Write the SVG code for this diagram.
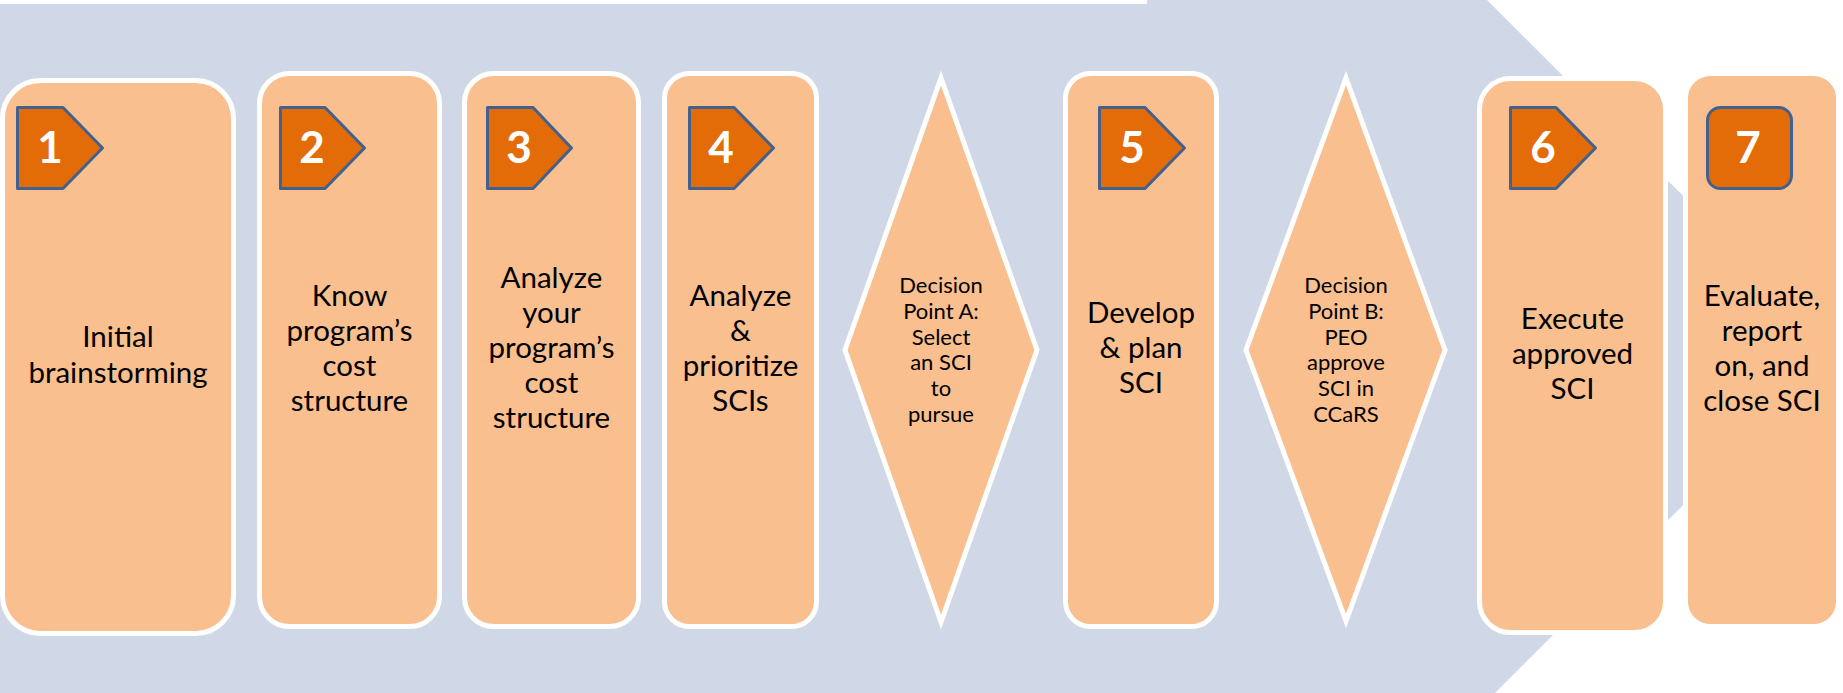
<svg xmlns="http://www.w3.org/2000/svg" width="1843" height="693" viewBox="0 0 1843 693">
<style>
.bg{fill:#D0D8E7}
.box{fill:#F9BF8F;stroke:#FFFFFF;stroke-width:5}
.badge{fill:#E36C09;stroke:#41618F;stroke-width:3;stroke-linejoin:round}
.num{font-family:Lato,"Liberation Sans",sans-serif;font-weight:bold;font-size:44px;fill:#FFFFFF;text-anchor:middle}
.t{font-family:Lato,"Liberation Sans",sans-serif;font-size:29.5px;fill:#000000;text-anchor:middle}
.d{font-family:Lato,"Liberation Sans",sans-serif;font-size:22px;fill:#000000;text-anchor:middle}
</style>
<rect width="1843" height="693" fill="#FFFFFF"/>
<g id="background-arrow">
<polygon class="bg" points="0,4 1147,4 1147,0 1487,0 1838,350.5 1487,701 1147,701 1147,697 0,697"/>
</g>
<g id="step1">
<rect class="box" x="2.5" y="80.5" width="231" height="553" rx="38" ry="38"/>
<polygon class="badge" points="17.5,107.5 63,107.5 102.5,148 63,188.5 17.5,188.5"/>
<text class="num" x="50" y="163">1</text>
<text class="t" x="118" y="347">Initial</text>
<text class="t" x="118" y="383">brainstorming</text>
</g>
<g id="step2">
<rect class="box" x="259.5" y="73.5" width="180" height="553" rx="30" ry="30"/>
<polygon class="badge" points="280.5,107.5 325,107.5 364.5,148 325,188.5 280.5,188.5"/>
<text class="num" x="312" y="163">2</text>
<text class="t" x="349.5" y="306">Know</text>
<text class="t" x="349.5" y="341">program’s</text>
<text class="t" x="349.5" y="376">cost</text>
<text class="t" x="349.5" y="411">structure</text>
</g>
<g id="step3">
<rect class="box" x="464.5" y="73.5" width="174" height="553" rx="29" ry="29"/>
<polygon class="badge" points="487.5,107.5 533,107.5 571.5,148 533,188.5 487.5,188.5"/>
<text class="num" x="519" y="163">3</text>
<text class="t" x="551.5" y="288">Analyze</text>
<text class="t" x="551.5" y="323">your</text>
<text class="t" x="551.5" y="358">program’s</text>
<text class="t" x="551.5" y="393">cost</text>
<text class="t" x="551.5" y="428">structure</text>
</g>
<g id="step4">
<rect class="box" x="664.5" y="73.5" width="152" height="553" rx="25" ry="25"/>
<polygon class="badge" points="689.5,107.5 734,107.5 773.5,148 734,188.5 689.5,188.5"/>
<text class="num" x="721" y="163">4</text>
<text class="t" x="740.5" y="306">Analyze</text>
<text class="t" x="740.5" y="341">&amp;</text>
<text class="t" x="740.5" y="376">prioritize</text>
<text class="t" x="740.5" y="411">SCIs</text>
</g>
<g id="decisionA">
<polygon class="box" points="941,78 1037,350 941,622 845,350"/>
<text class="d" x="941" y="293">Decision</text>
<text class="d" x="941" y="319">Point A:</text>
<text class="d" x="941" y="345">Select</text>
<text class="d" x="941" y="370">an SCI</text>
<text class="d" x="941" y="396">to</text>
<text class="d" x="941" y="422">pursue</text>
</g>
<g id="step5">
<rect class="box" x="1065.5" y="73.5" width="151" height="553" rx="25" ry="25"/>
<polygon class="badge" points="1099.5,107.5 1145,107.5 1184.5,148 1145,188.5 1099.5,188.5"/>
<text class="num" x="1132" y="163">5</text>
<text class="t" x="1141" y="323">Develop</text>
<text class="t" x="1141" y="358">&amp; plan</text>
<text class="t" x="1141" y="393">SCI</text>
</g>
<g id="decisionB">
<polygon class="box" points="1346,78 1445,350 1346,621 1246,350"/>
<text class="d" x="1346" y="293">Decision</text>
<text class="d" x="1346" y="319">Point B:</text>
<text class="d" x="1346" y="345">PEO</text>
<text class="d" x="1346" y="370">approve</text>
<text class="d" x="1346" y="396">SCI in</text>
<text class="d" x="1346" y="422">CCaRS</text>
</g>
<g id="step6">
<rect class="box" x="1479.5" y="78.5" width="186" height="554" rx="31" ry="31"/>
<polygon class="badge" points="1510.5,107.5 1556,107.5 1595.5,148 1556,188.5 1510.5,188.5"/>
<text class="num" x="1543" y="163">6</text>
<text class="t" x="1572.5" y="329">Execute</text>
<text class="t" x="1572.5" y="364">approved</text>
<text class="t" x="1572.5" y="399">SCI</text>
</g>
<g id="step7">
<rect class="box" x="1685.5" y="73.5" width="153" height="553" rx="25" ry="25"/>
<rect class="badge" x="1707.5" y="107.5" width="84" height="81" rx="13" ry="13"/>
<text class="num" x="1748" y="163">7</text>
<text class="t" x="1762" y="306">Evaluate,</text>
<text class="t" x="1762" y="341">report</text>
<text class="t" x="1762" y="376">on, and</text>
<text class="t" x="1762" y="411">close SCI</text>
</g>
</svg>
